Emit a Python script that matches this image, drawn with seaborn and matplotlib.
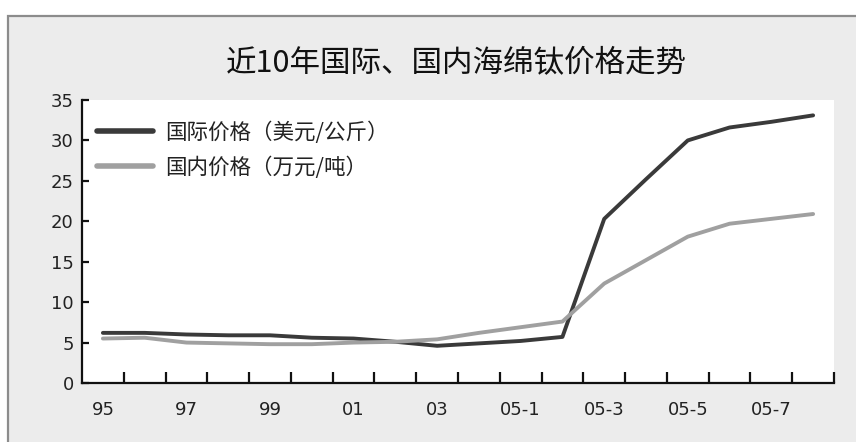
import matplotlib
matplotlib.use("Agg")
import matplotlib.pyplot as plt
from matplotlib.patches import Rectangle
from matplotlib.ticker import FixedLocator, NullFormatter
import numpy as np
import pandas as pd
import seaborn as sns

# Periods: 1995-2004 yearly, then Jan-Aug 2005 monthly
periods = ["95", "96", "97", "98", "99", "00", "01", "02", "03", "04",
           "05-1", "05-2", "05-3", "05-4", "05-5", "05-6", "05-7", "05-8"]
intl_price = [6.2, 6.2, 6.0, 5.9, 5.9, 5.6, 5.5, 5.1, 4.6, 4.9,
              5.2, 5.7, 20.3, 25.2, 30.0, 31.6, 32.3, 33.1]
dom_price = [5.5, 5.6, 5.0, 4.9, 4.8, 4.8, 5.0, 5.1, 5.4, 6.2,
             6.9, 7.6, 12.3, 15.2, 18.1, 19.7, 20.3, 20.9]
shown_labels = ["95", "97", "99", "01", "03", "05-1", "05-3", "05-5", "05-7"]
y_ticks = [0, 5, 10, 15, 20, 25, 30, 35]

intl_name = "国际价格（美元/公斤）"
dom_name = "国内价格（万元/吨）"
title = "近10年国际、国内海绵钛价格走势"

sns.set_theme(style="white")
plt.rcParams["font.family"] = ["DejaVu Sans", "Noto Sans CJK SC"]

n = len(periods)
df = pd.DataFrame({
    "pos": list(range(n)) * 2,
    "price": intl_price + dom_price,
    "series": [intl_name] * n + [dom_name] * n,
})

fig = plt.figure(figsize=(8.56, 4.42), dpi=100, facecolor="white")
# grey panel behind the whole chart
fig.patches.append(Rectangle((8 / 856, -0.01), 1.0, 0.9638 + 0.01,
                             transform=fig.transFigure, facecolor="#ececec",
                             edgecolor="#8c8c8c", linewidth=1.6, zorder=-10))

ax = fig.add_axes([82 / 856, 1 - 383 / 442, (834 - 82) / 856, (383 - 100) / 442])
ax.set_facecolor("white")

sns.lineplot(data=df, x="pos", y="price", hue="series",
             palette={intl_name: "#3a3a3a", dom_name: "#a0a0a0"},
             linewidth=2.8, ax=ax, legend=False)

ax.set_xlim(-0.5, n - 0.5)
ax.set_ylim(0, 35)
ax.set_xlabel("")
ax.set_ylabel("")

# category boundaries carry the tick marks, labels sit in every other category
ax.xaxis.set_major_locator(FixedLocator(np.arange(0.5, n, 1.0)))
ax.xaxis.set_major_formatter(NullFormatter())
label_pos = [periods.index(p) for p in shown_labels]
ax.set_xticks(label_pos, minor=True)
ax.set_xticklabels(shown_labels, minor=True)
ax.tick_params(axis="x", which="major", bottom=True, direction="in", length=8,
               width=1.6, color="#111111")
ax.tick_params(axis="x", which="minor", bottom=True, length=0, pad=13,
               labelsize=13, labelcolor="#222222")

ax.set_yticks(y_ticks)
ax.set_yticklabels([str(v) for v in y_ticks])
ax.tick_params(axis="y", left=True, direction="in", length=5, width=1.6,
               color="#111111", pad=6, labelsize=13, labelcolor="#222222")

for side in ("top", "right"):
    ax.spines[side].set_visible(False)
for side in ("left", "bottom"):
    ax.spines[side].set_color("#111111")
    ax.spines[side].set_linewidth(1.6)

handles = [plt.Line2D([], [], color="#3a3a3a", lw=4.0),
           plt.Line2D([], [], color="#a0a0a0", lw=4.0)]
leg = ax.legend(handles, [intl_name, dom_name], loc="upper left",
                bbox_to_anchor=(0.02, 0.925), frameon=False, borderpad=0,
                borderaxespad=0, handlelength=2.6, handletextpad=0.55,
                labelspacing=0.6, prop={"family": "Noto Sans CJK SC", "size": 15.5})
for t in leg.get_texts():
    t.set_color("#222222")

fig.text(456 / 856, 1 - 64 / 442, title, ha="center", va="center",
         fontsize=22, color="#111111", family="Noto Sans CJK SC")

fig.savefig("out.png", dpi=100, facecolor="white")
